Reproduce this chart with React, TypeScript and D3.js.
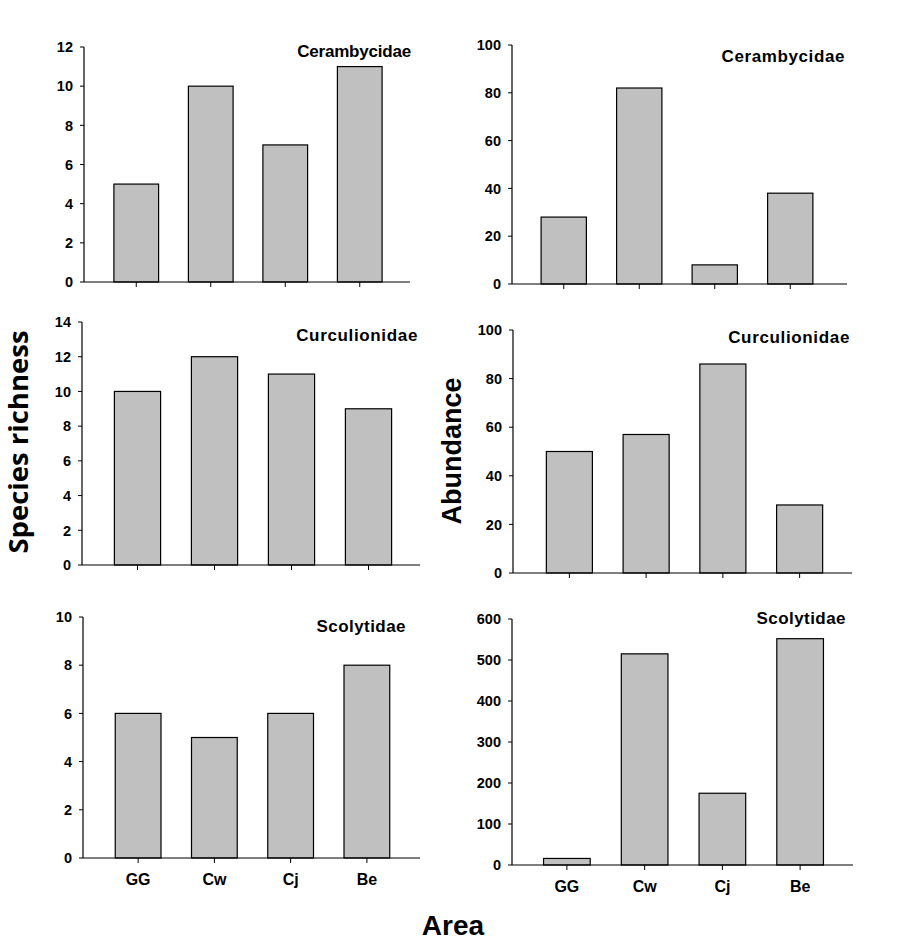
import React from "react";
import * as d3 from "d3";

const categories = ["GG", "Cw", "Cj", "Be"];

const richCerambycidae = [5, 10, 7, 11];
const richCurculionidae = [10, 12, 11, 9];
const richScolytidae = [6, 5, 6, 8];
const abunCerambycidae = [28, 82, 8, 38];
const abunCurculionidae = [50, 57, 86, 28];
const abunScolytidae = [16, 515, 175, 552];

const familyNames = ["Cerambycidae", "Curculionidae", "Scolytidae"];
const yMaxes = [12, 100, 14, 100, 10, 600];
const yStepsList = [2, 20, 2, 20, 2, 100];

const yTitleLeft = "Species richness";
const yTitleRight = "Abundance";
const xTitle = "Area";

type Panel = {
  values: number[];
  title: string;
  yMax: number;
  yStep: number;
  axisX: number;
  yTop: number;
  yZero: number;
  xEnd: number;
  band: [number, number];
  titleX: number;
  titleY: number;
  titleSpacing: number;
  showCats: boolean;
  catY: number;
};

const panels: Panel[] = [
  { values: richCerambycidae, title: familyNames[0], yMax: yMaxes[0], yStep: yStepsList[0], axisX: 84, yTop: 47, yZero: 282, xEnd: 410, band: [99, 397], titleX: 411, titleY: 57, titleSpacing: -0.2, showCats: false, catY: 0 },
  { values: abunCerambycidae, title: familyNames[0], yMax: yMaxes[1], yStep: yStepsList[1], axisX: 512, yTop: 45, yZero: 284, xEnd: 847, band: [526, 828], titleX: 845, titleY: 62, titleSpacing: 0.6, showCats: false, catY: 0 },
  { values: richCurculionidae, title: familyNames[1], yMax: yMaxes[2], yStep: yStepsList[2], axisX: 82, yTop: 322, yZero: 565, xEnd: 420, band: [99, 407], titleX: 418, titleY: 341, titleSpacing: 0.65, showCats: false, catY: 0 },
  { values: abunCurculionidae, title: familyNames[1], yMax: yMaxes[3], yStep: yStepsList[3], axisX: 513, yTop: 330, yZero: 573, xEnd: 852, band: [531, 838], titleX: 850, titleY: 343, titleSpacing: 0.65, showCats: false, catY: 0 },
  { values: richScolytidae, title: familyNames[2], yMax: yMaxes[4], yStep: yStepsList[4], axisX: 83, yTop: 617, yZero: 858, xEnd: 420, band: [100, 405], titleX: 406, titleY: 632, titleSpacing: 0.45, showCats: true, catY: 885 },
  { values: abunScolytidae, title: familyNames[2], yMax: yMaxes[5], yStep: yStepsList[5], axisX: 512, yTop: 619, yZero: 865, xEnd: 853, band: [528, 839], titleX: 846, titleY: 624, titleSpacing: 0.45, showCats: true, catY: 892 },
];

const FONT = "'Liberation Sans', Arial, sans-serif";

function PanelView({ p }: { p: Panel }) {
  const x = d3.scaleBand<string>().domain(categories).range(p.band).paddingInner(0.4).paddingOuter(0.2);
  const y = d3.scaleLinear().domain([0, p.yMax]).range([p.yZero, p.yTop]);
  const ticks = d3.range(0, p.yMax + p.yStep / 2, p.yStep);
  return (
    <g>
      {p.values.map((v, i) => (
        <rect
          key={i}
          x={x(categories[i])!}
          y={y(v)}
          width={x.bandwidth()}
          height={p.yZero - y(v)}
          fill="#c0c0c0"
          stroke="#000"
          strokeWidth={1.2}
        />
      ))}
      <line x1={p.axisX} x2={p.axisX} y1={p.yTop} y2={p.yZero} stroke="#000" strokeWidth={1.2} />
      <line x1={p.axisX} x2={p.xEnd} y1={p.yZero} y2={p.yZero} stroke="#000" strokeWidth={1.2} />
      {ticks.map((t) => (
        <g key={t}>
          <line x1={p.axisX - 4} x2={p.axisX} y1={y(t)} y2={y(t)} stroke="#000" strokeWidth={1} />
          <text x={p.axisX - 11} y={y(t)} dy="0.36em" textAnchor="end" fontFamily={FONT} fontWeight="bold" fontSize={14.5}>
            {t}
          </text>
        </g>
      ))}
      {categories.map((c) => (
        <g key={c}>
          <line x1={x(c)! + x.bandwidth() / 2} x2={x(c)! + x.bandwidth() / 2} y1={p.yZero} y2={p.yZero + 5} stroke="#000" strokeWidth={1} />
          {p.showCats && (
            <text x={x(c)! + x.bandwidth() / 2} y={p.catY} textAnchor="middle" fontFamily={FONT} fontWeight="bold" fontSize={16}>
              {c}
            </text>
          )}
        </g>
      ))}
      <text x={p.titleX} y={p.titleY} textAnchor="end" fontFamily={FONT} fontWeight="bold" fontSize={17} letterSpacing={p.titleSpacing}>
        {p.title}
      </text>
    </g>
  );
}

export default function App() {
  return (
    <svg width={902} height={947} style={{ position: "absolute", left: 0, top: 0, background: "#fff" }}>
      <rect x={0} y={0} width={902} height={947} fill="#fff" />
      {panels.map((p, i) => (
        <PanelView key={i} p={p} />
      ))}
      <text
        transform="translate(28,442) rotate(-90)"
        textAnchor="middle"
        fontFamily="'Open Sans', 'Noto Sans', sans-serif"
        fontWeight="bold"
        fontSize={27.5}
      >
        {yTitleLeft}
      </text>
      <text transform="translate(461,451) rotate(-90)" textAnchor="middle" fontFamily={FONT} fontWeight="bold" fontSize={27}>
        {yTitleRight}
      </text>
      <text x={453} y={935} textAnchor="middle" fontFamily={FONT} fontWeight="bold" fontSize={28}>
        {xTitle}
      </text>
    </svg>
  );
}
